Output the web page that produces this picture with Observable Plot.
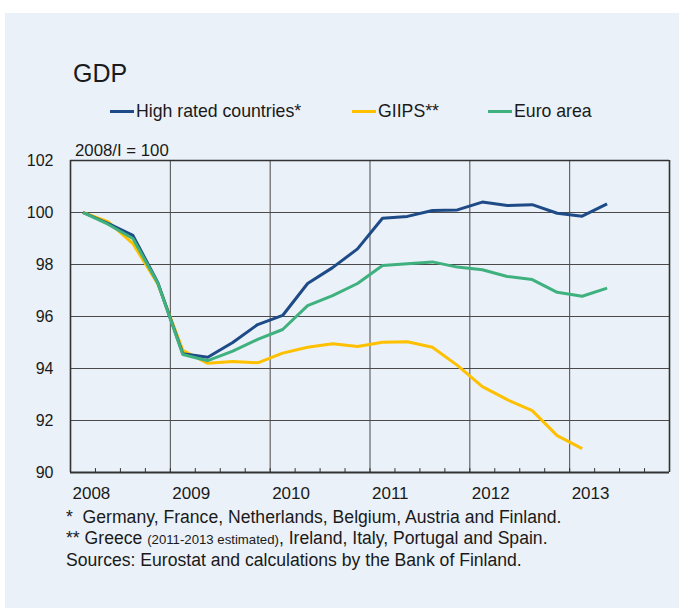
<!DOCTYPE html>
<html>
<head>
<meta charset="utf-8">
<script src="https://cdn.jsdelivr.net/npm/d3@7"></script>
<script src="https://cdn.jsdelivr.net/npm/@observablehq/plot@0.6"></script>
<style>
  html, body { margin: 0; padding: 0; background: #ffffff; }
  #wrap { position: relative; width: 679px; height: 608px; overflow: hidden; font-family: "Liberation Sans", Arial, Helvetica, sans-serif; color: #1a1a1a; }
  #bg { position: absolute; left: 5px; top: 13px; right: 0; bottom: 0; background: #eaf1f8; }
  #chart { position: absolute; left: 0; top: 0; }
  .abs { position: absolute; white-space: nowrap; line-height: 1; }
  #title { left: 73px; top: 61px; font-size: 25px; }
  #legend { left: 0; top: 103px; font-size: 17.7px; }
  .item { position: absolute; white-space: nowrap; }
  .sw { display: inline-block; width: 24px; height: 3.5px; vertical-align: middle; margin-right: 2px; position: relative; top: -1px; }
  #unit { left: 75px; top: 143px; font-size: 16.8px; }
  #notes { left: 66px; top: 507px; font-size: 17.6px; line-height: 20.5px; }
  #notes .small { font-size: 13.2px; }
</style>
</head>
<body>
<div id="wrap">
  <div id="bg"></div>
  <div id="chart"></div>
  <div id="title" class="abs">GDP</div>
  <div id="legend" class="abs"></div>
  <div id="unit" class="abs">2008/I = 100</div>
  <div id="notes" class="abs">
    <div>*&nbsp; Germany, France, Netherlands, Belgium, Austria and Finland.</div>
    <div>** Greece <span class="small">(2011-2013 estimated)</span>, Ireland, Italy, Portugal and Spain.</div>
    <div>Sources: Eurostat and calculations by the Bank of Finland.</div>
  </div>
</div>
<script>
// ---- Data (quarterly, index 2008/I = 100) ----
const quarters = ["2008Q1","2008Q2","2008Q3","2008Q4","2009Q1","2009Q2","2009Q3","2009Q4",
  "2010Q1","2010Q2","2010Q3","2010Q4","2011Q1","2011Q2","2011Q3","2011Q4",
  "2012Q1","2012Q2","2012Q3","2012Q4","2013Q1","2013Q2"];
const highRated = [100.0, 99.58, 99.12, 97.3, 94.57, 94.43, 95.0, 95.69, 96.04, 97.27, 97.88, 98.6,
  99.78, 99.85, 100.08, 100.1, 100.4, 100.27, 100.3, 99.97, 99.86, 100.33];
const giips = [100.0, 99.65, 98.8, 97.25, 94.7, 94.2, 94.27, 94.22, 94.59, 94.82, 94.95, 94.85,
  95.01, 95.03, 94.82, 94.12, 93.3, 92.8, 92.38, 91.42, 90.92];
const euroArea = [100.0, 99.55, 99.0, 97.28, 94.54, 94.3, 94.67, 95.12, 95.5, 96.42, 96.8, 97.27,
  97.96, 98.03, 98.1, 97.9, 97.8, 97.54, 97.42, 96.93, 96.78, 97.09];
const seriesNames = ["High rated countries*", "GIIPS**", "Euro area"];
const seriesColors = ["#1e4b87", "#ffc000", "#3fb17f"];
const yearTicks = [2008, 2009, 2010, 2011, 2012, 2013];
const yTicks = [90, 92, 94, 96, 98, 100, 102];

// ---- Build table ----
const qPos = q => +q.slice(0, 4) + (+q.slice(5) - 0.5) / 4;
const seriesValues = [highRated, giips, euroArea];
const rows = [];
seriesValues.forEach((vals, i) => vals.forEach((v, j) => rows.push({series: seriesNames[i], x: qPos(quarters[j]), y: v})));
const drawOrder = [seriesNames[1], seriesNames[0], seriesNames[2]];
const quarterTicks = d3.range(2008, 2014.01, 0.25);
const innerYearLines = yearTicks.slice(1);
const innerYLines = yTicks.slice(1, -1);
const xDomain = [2008, 2014];
const yDomain = [90, 102];

const gridColor = "#4a4a4a";
const chart = Plot.plot({
  width: 679,
  height: 608,
  marginLeft: 70,
  marginRight: 10,
  marginTop: 160,
  marginBottom: 136,
  style: {background: "transparent", fontFamily: "'Liberation Sans', Arial, Helvetica, sans-serif", color: "#1a1a1a", overflow: "visible"},
  x: {domain: xDomain},
  y: {domain: yDomain},
  color: {domain: seriesNames, range: seriesColors},
  marks: [
    Plot.ruleX(innerYearLines, {stroke: gridColor, strokeWidth: 1}),
    Plot.ruleY(innerYLines, {stroke: gridColor, strokeWidth: 1}),
    Plot.ruleX(quarterTicks, {x: d => d, y1: yDomain[0], y2: yDomain[0] + 0.15, stroke: "#333", strokeWidth: 1}),
    Plot.ruleY([yDomain[1]], {stroke: "#333", strokeWidth: 1.3}),
    Plot.ruleX(xDomain, {stroke: "#333", strokeWidth: 1.6}),
    Plot.ruleY([yDomain[0]], {stroke: "#333", strokeWidth: 2}),
    ...drawOrder.map(name => Plot.line(rows.filter(r => r.series === name), {x: "x", y: "y", stroke: "series", strokeWidth: 3, strokeLinejoin: "round", strokeLinecap: "butt"})),
    Plot.axisX({ticks: yearTicks, tickSize: 0, tickPadding: 14, textAnchor: "start", dx: 2, fontSize: 17, tickFormat: d => String(d), label: null}),
    Plot.axisY({ticks: yTicks, tickSize: 0, tickPadding: 17, fontSize: 16, label: null})
  ]
});
document.getElementById("chart").appendChild(chart);

// ---- Legend ----
const legendX = [110, 352, 488];
const legend = document.getElementById("legend");
seriesNames.forEach((name, i) => {
  const it = document.createElement("div");
  it.className = "item";
  it.style.left = legendX[i] + "px";
  it.style.top = "0px";
  const sw = document.createElement("span");
  sw.className = "sw";
  sw.style.background = seriesColors[i];
  it.appendChild(sw);
  it.appendChild(document.createTextNode(name));
  legend.appendChild(it);
});
</script>
</body>
</html>
